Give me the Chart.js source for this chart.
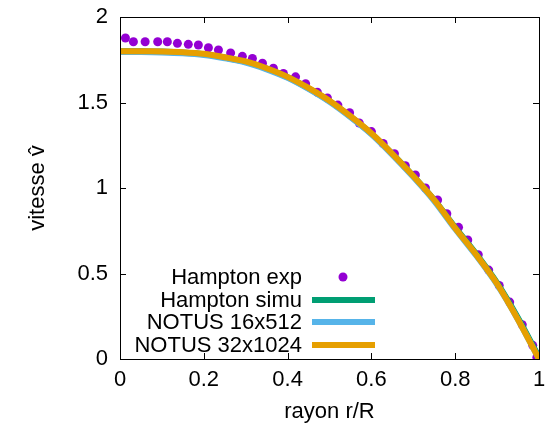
<!DOCTYPE html>
<html>
  <head>
    <meta charset="UTF-8" />
    <title>Profil de vitesse</title>
    <script src="https://cdn.jsdelivr.net/npm/chart.js"></script>
    <style>
      body {
        margin: 0;
        background: #fff;
      }
      #wrap {
        width: 549px;
        height: 432px;
      }
    </style>
  </head>
  <body>
    <div id="wrap"><canvas id="profil" width="549" height="432"></canvas></div>

    <script>
      // Hampton experimental points (r/R, v)
      const expR = [
        0.013, 0.032, 0.06, 0.09, 0.113, 0.137, 0.163, 0.187, 0.211, 0.235,
        0.264, 0.292, 0.316, 0.34, 0.366, 0.39, 0.419, 0.443, 0.471, 0.495,
        0.52, 0.548, 0.571, 0.6, 0.628, 0.655, 0.681, 0.705, 0.729, 0.758,
        0.78, 0.808, 0.83, 0.855, 0.88, 0.905, 0.93, 0.96, 0.985, 0.995,
      ];
      const expV = [
        1.877, 1.855, 1.855, 1.855, 1.855, 1.846, 1.84, 1.836, 1.82, 1.807,
        1.79, 1.77, 1.758, 1.73, 1.7, 1.67, 1.65, 1.61, 1.56, 1.526,
        1.485, 1.44, 1.38, 1.33, 1.26, 1.2, 1.13, 1.076, 1.0, 0.93,
        0.85, 0.77, 0.696, 0.61, 0.52, 0.43, 0.333, 0.2, 0.08, 0.01,
      ];

      // simulated profiles, sampled on the same radii
      const simR = [
        0, 0.05, 0.1, 0.15, 0.2, 0.25, 0.3, 0.35, 0.4, 0.45, 0.5,
        0.55, 0.6, 0.65, 0.7, 0.75, 0.8, 0.85, 0.9, 0.95, 1.0,
      ];
      const hamptonSimu = [
        1.8, 1.8, 1.798, 1.793, 1.783, 1.763, 1.738, 1.698, 1.648, 1.583, 1.508,
        1.418, 1.318, 1.2, 1.07, 0.93, 0.77, 0.615, 0.445, 0.24, 0.01,
      ];
      const notus16 = [
        1.795, 1.795, 1.793, 1.788, 1.778, 1.759, 1.734, 1.694, 1.644, 1.579, 1.504,
        1.414, 1.314, 1.194, 1.064, 0.924, 0.76, 0.605, 0.435, 0.23, 0.0,
      ];
      const notus32 = [
        1.8, 1.8, 1.798, 1.794, 1.785, 1.765, 1.74, 1.7, 1.65, 1.585, 1.51,
        1.42, 1.32, 1.2, 1.07, 0.93, 0.765, 0.61, 0.44, 0.23, 0.0,
      ];

      const xTicks = [0, 0.2, 0.4, 0.6, 0.8, 1];
      const yTicks = [0, 0.5, 1, 1.5, 2];

      const FONT = "'Liberation Sans', Arial, sans-serif";

      function pts(xs, ys) {
        return xs.map((x, i) => ({ x: x, y: ys[i] }));
      }

      const series = [
        { label: "Hampton exp", color: "#9400d3", points: true },
        { label: "Hampton simu", color: "#009e73" },
        { label: "NOTUS 16x512", color: "#56b4e9" },
        { label: "NOTUS 32x1024", color: "#e69f00" },
      ];

      // gnuplot style frame, inward ticks and key
      const gnuplotFrame = {
        id: "gnuplotFrame",
        afterDraw(chart) {
          const { ctx, chartArea: a, scales } = chart;
          ctx.save();
          ctx.strokeStyle = "#000";
          ctx.lineWidth = 1;
          ctx.beginPath();
          xTicks.forEach((t) => {
            const px = Math.round(scales.x.getPixelForValue(t)) + 0.5;
            ctx.moveTo(px, a.bottom);
            ctx.lineTo(px, a.bottom - 6);
            ctx.moveTo(px, a.top);
            ctx.lineTo(px, a.top + 6);
          });
          yTicks.forEach((t) => {
            const py = Math.round(scales.y.getPixelForValue(t)) + 0.5;
            ctx.moveTo(a.left, py);
            ctx.lineTo(a.left + 6, py);
            ctx.moveTo(a.right, py);
            ctx.lineTo(a.right - 6, py);
          });
          ctx.stroke();
          ctx.strokeRect(
            Math.round(a.left) + 0.5,
            Math.round(a.top) + 0.5,
            Math.round(a.right - a.left),
            Math.round(a.bottom - a.top)
          );

          // key
          const rows = [277, 300, 322, 345];
          ctx.font = "22px " + FONT;
          ctx.textAlign = "right";
          ctx.textBaseline = "middle";
          series.forEach((s, i) => {
            const y = rows[i];
            ctx.fillStyle = "#000";
            ctx.fillText(s.label, 302, y + 1);
            if (s.points) {
              ctx.fillStyle = s.color;
              ctx.beginPath();
              ctx.arc(343, y, 4.5, 0, Math.PI * 2);
              ctx.fill();
            } else {
              ctx.strokeStyle = s.color;
              ctx.lineWidth = 6;
              ctx.beginPath();
              ctx.moveTo(312, y);
              ctx.lineTo(375, y);
              ctx.stroke();
            }
          });
          ctx.restore();
        },
      };

      const lineSet = (s, ys, order) => ({
        label: s.label,
        data: pts(simR, ys),
        showLine: true,
        borderColor: s.color,
        backgroundColor: s.color,
        borderWidth: 6,
        pointRadius: 0,
        tension: 0.3,
        order: order,
      });

      new Chart(document.getElementById("profil"), {
        type: "scatter",
        data: {
          datasets: [
            {
              label: series[0].label,
              data: pts(expR, expV),
              backgroundColor: series[0].color,
              borderWidth: 0,
              pointRadius: 4.5,
              order: 4,
            },
            lineSet(series[1], hamptonSimu, 3),
            lineSet(series[2], notus16, 2),
            lineSet(series[3], notus32, 1),
          ],
        },
        options: {
          responsive: false,
          animation: false,
          events: [],
          layout: { padding: 0 },
          plugins: {
            legend: { display: false },
            tooltip: { enabled: false },
          },
          scales: {
            x: {
              type: "linear",
              min: 0,
              max: 1,
              afterFit: (s) => {
                s.height = 73;
                s.paddingRight = 10;
                s.paddingLeft = 0;
              },
              afterBuildTicks: (s) => {
                s.ticks = xTicks.map((v) => ({ value: v }));
              },
              grid: { display: false, drawTicks: false },
              border: { display: false },
              ticks: {
                padding: 8,
                color: "#000",
                font: { family: FONT, size: 22 },
                maxRotation: 0,
                callback: (v) => String(v),
              },
              title: {
                display: true,
                text: "rayon r/R",
                color: "#000",
                font: { family: FONT, size: 22 },
                padding: { top: 0, bottom: 7 },
              },
            },
            y: {
              type: "linear",
              min: 0,
              max: 2,
              afterFit: (s) => {
                s.width = 120;
                s.paddingTop = 17;
                s.paddingBottom = 0;
              },
              afterBuildTicks: (s) => {
                s.ticks = yTicks.map((v) => ({ value: v }));
              },
              grid: { display: false, drawTicks: false },
              border: { display: false },
              ticks: {
                padding: 12,
                color: "#000",
                font: { family: FONT, size: 22 },
                callback: (v) => String(v),
              },
              title: {
                display: true,
                text: "vitesse v\u0302",
                color: "#000",
                font: { family: FONT, size: 22 },
                padding: { top: 25, bottom: 0 },
              },
            },
          },
        },
        plugins: [gnuplotFrame],
      });
    </script>
  </body>
</html>
